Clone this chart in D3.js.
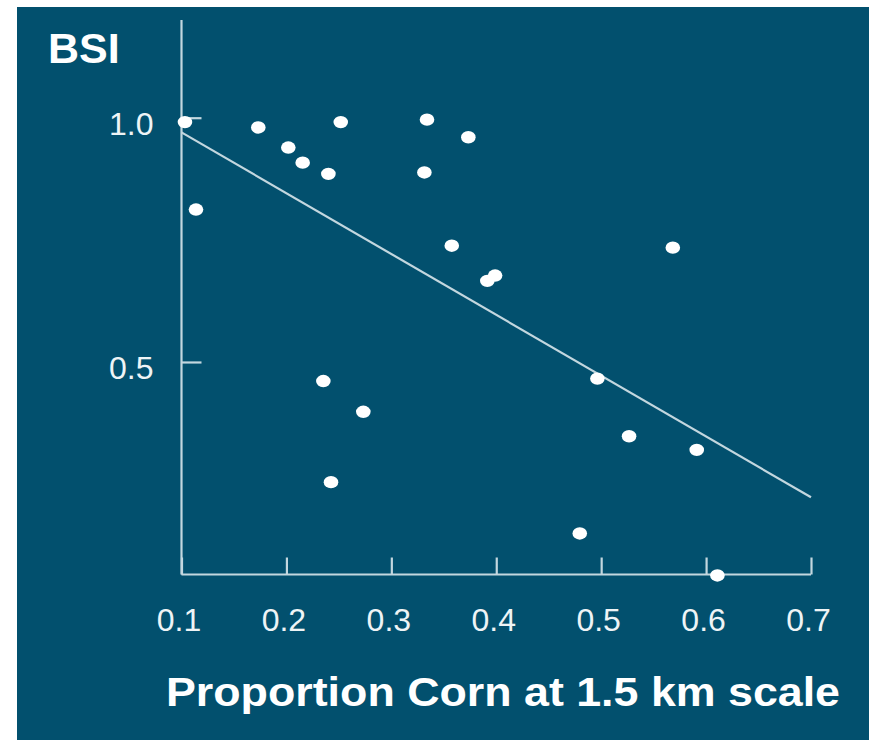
<!DOCTYPE html>
<html>
<head>
<meta charset="utf-8">
<script src="https://cdn.jsdelivr.net/npm/d3@7/dist/d3.min.js"></script>
<style>
  html, body { margin: 0; padding: 0; background: #ffffff; }
  svg { display: block; }
</style>
</head>
<body>
<div id="chart"></div>
<script>
// Bird species index vs. proportion of corn in the landscape (1.5 km scale)
const cornProportion = [
  0.1033, 0.1732, 0.2518, 0.2018, 0.2155, 0.2400, 0.3340, 0.3734, 0.3315,
  0.1138, 0.3576, 0.3915, 0.3989, 0.5683, 0.4964, 0.5266, 0.5911, 0.4796,
  0.6108, 0.2352, 0.2733, 0.2425
];
const bsiValues = [
  0.991, 0.980, 0.991, 0.939, 0.908, 0.885, 0.996, 0.960, 0.888,
  0.812, 0.738, 0.666, 0.677, 0.734, 0.466, 0.348, 0.320, 0.149,
  0.063, 0.461, 0.398, 0.254
];
// fitted regression line endpoints
const fitX = [0.1, 0.7];
const fitY = [0.970, 0.223];

const xTicks = [0.1, 0.2, 0.3, 0.4, 0.5, 0.6, 0.7];
const yTicks = [0.5, 1.0];
const xDomain = [0.1, 0.7];
const yDomain = [0.065, 1.2];

const W = 869, H = 740;
const bg = "#02506e";
const axisColor = "#c3d7df";
const textColor = "#eef4f6";

const svg = d3.select("#chart").append("svg")
  .attr("width", W).attr("height", H);

svg.append("rect")
  .attr("x", 17).attr("y", 7)
  .attr("width", W - 17).attr("height", H - 7)
  .attr("fill", bg);

const x = d3.scaleLinear().domain(xDomain).range([181.5, 811]);
const y = d3.scaleLinear().domain(yDomain).range([574.5, 20]);

// x axis: ticks point up into the plot
const xAxis = d3.axisBottom(x).tickValues(xTicks).tickSize(-17).tickFormat(d3.format(".1f"));
const gx = svg.append("g").attr("transform", `translate(0,${y(yDomain[0])})`).call(xAxis);
gx.select(".domain").attr("d", `M${x(0.1)},0H${x(0.7)}`);
gx.selectAll("path, line").attr("stroke", axisColor).attr("stroke-width", 2.2);
gx.selectAll("text")
  .attr("fill", textColor)
  .attr("font-family", "'Liberation Sans', Arial, sans-serif")
  .attr("font-size", 32)
  .attr("dy", 0)
  .attr("y", 56)
  .attr("dx", -3);

// y axis: ticks point right into the plot
const yAxis = d3.axisLeft(y).tickValues(yTicks).tickSize(-20).tickFormat(d3.format(".1f"));
const gy = svg.append("g").attr("transform", `translate(${x(xDomain[0])},0)`).call(yAxis);
gy.select(".domain").attr("d", `M0,${y(yDomain[1])}V${y(yDomain[0])}`);
gy.selectAll("path, line").attr("stroke", axisColor).attr("stroke-width", 2.2);
gy.selectAll("text")
  .attr("fill", textColor)
  .attr("font-family", "'Liberation Sans', Arial, sans-serif")
  .attr("font-size", 32)
  .attr("x", -28)
  .attr("dy", 17);

// regression line
svg.append("line")
  .attr("x1", x(fitX[0])).attr("y1", y(fitY[0]))
  .attr("x2", x(fitX[1])).attr("y2", y(fitY[1]))
  .attr("stroke", axisColor).attr("stroke-width", 2.2);

// observations
svg.append("g").selectAll("ellipse")
  .data(cornProportion.map((c, i) => [c, bsiValues[i]]))
  .join("ellipse")
  .attr("cx", d => x(d[0]))
  .attr("cy", d => y(d[1]))
  .attr("rx", 7.3).attr("ry", 6.2)
  .attr("fill", "#ffffff");

// axis titles
svg.append("text")
  .attr("x", 48).attr("y", 63)
  .attr("fill", "#ffffff")
  .attr("font-family", "'Liberation Sans', Arial, sans-serif")
  .attr("font-weight", "bold")
  .attr("font-size", 43)
  .text("BSI");

svg.append("text")
  .attr("x", 166).attr("y", 706)
  .attr("fill", "#ffffff")
  .attr("font-family", "'Liberation Sans', Arial, sans-serif")
  .attr("font-weight", "bold")
  .attr("font-size", 40)
  .attr("textLength", 674)
  .attr("lengthAdjust", "spacingAndGlyphs")
  .text("Proportion Corn at 1.5 km scale");
</script>
</body>
</html>
